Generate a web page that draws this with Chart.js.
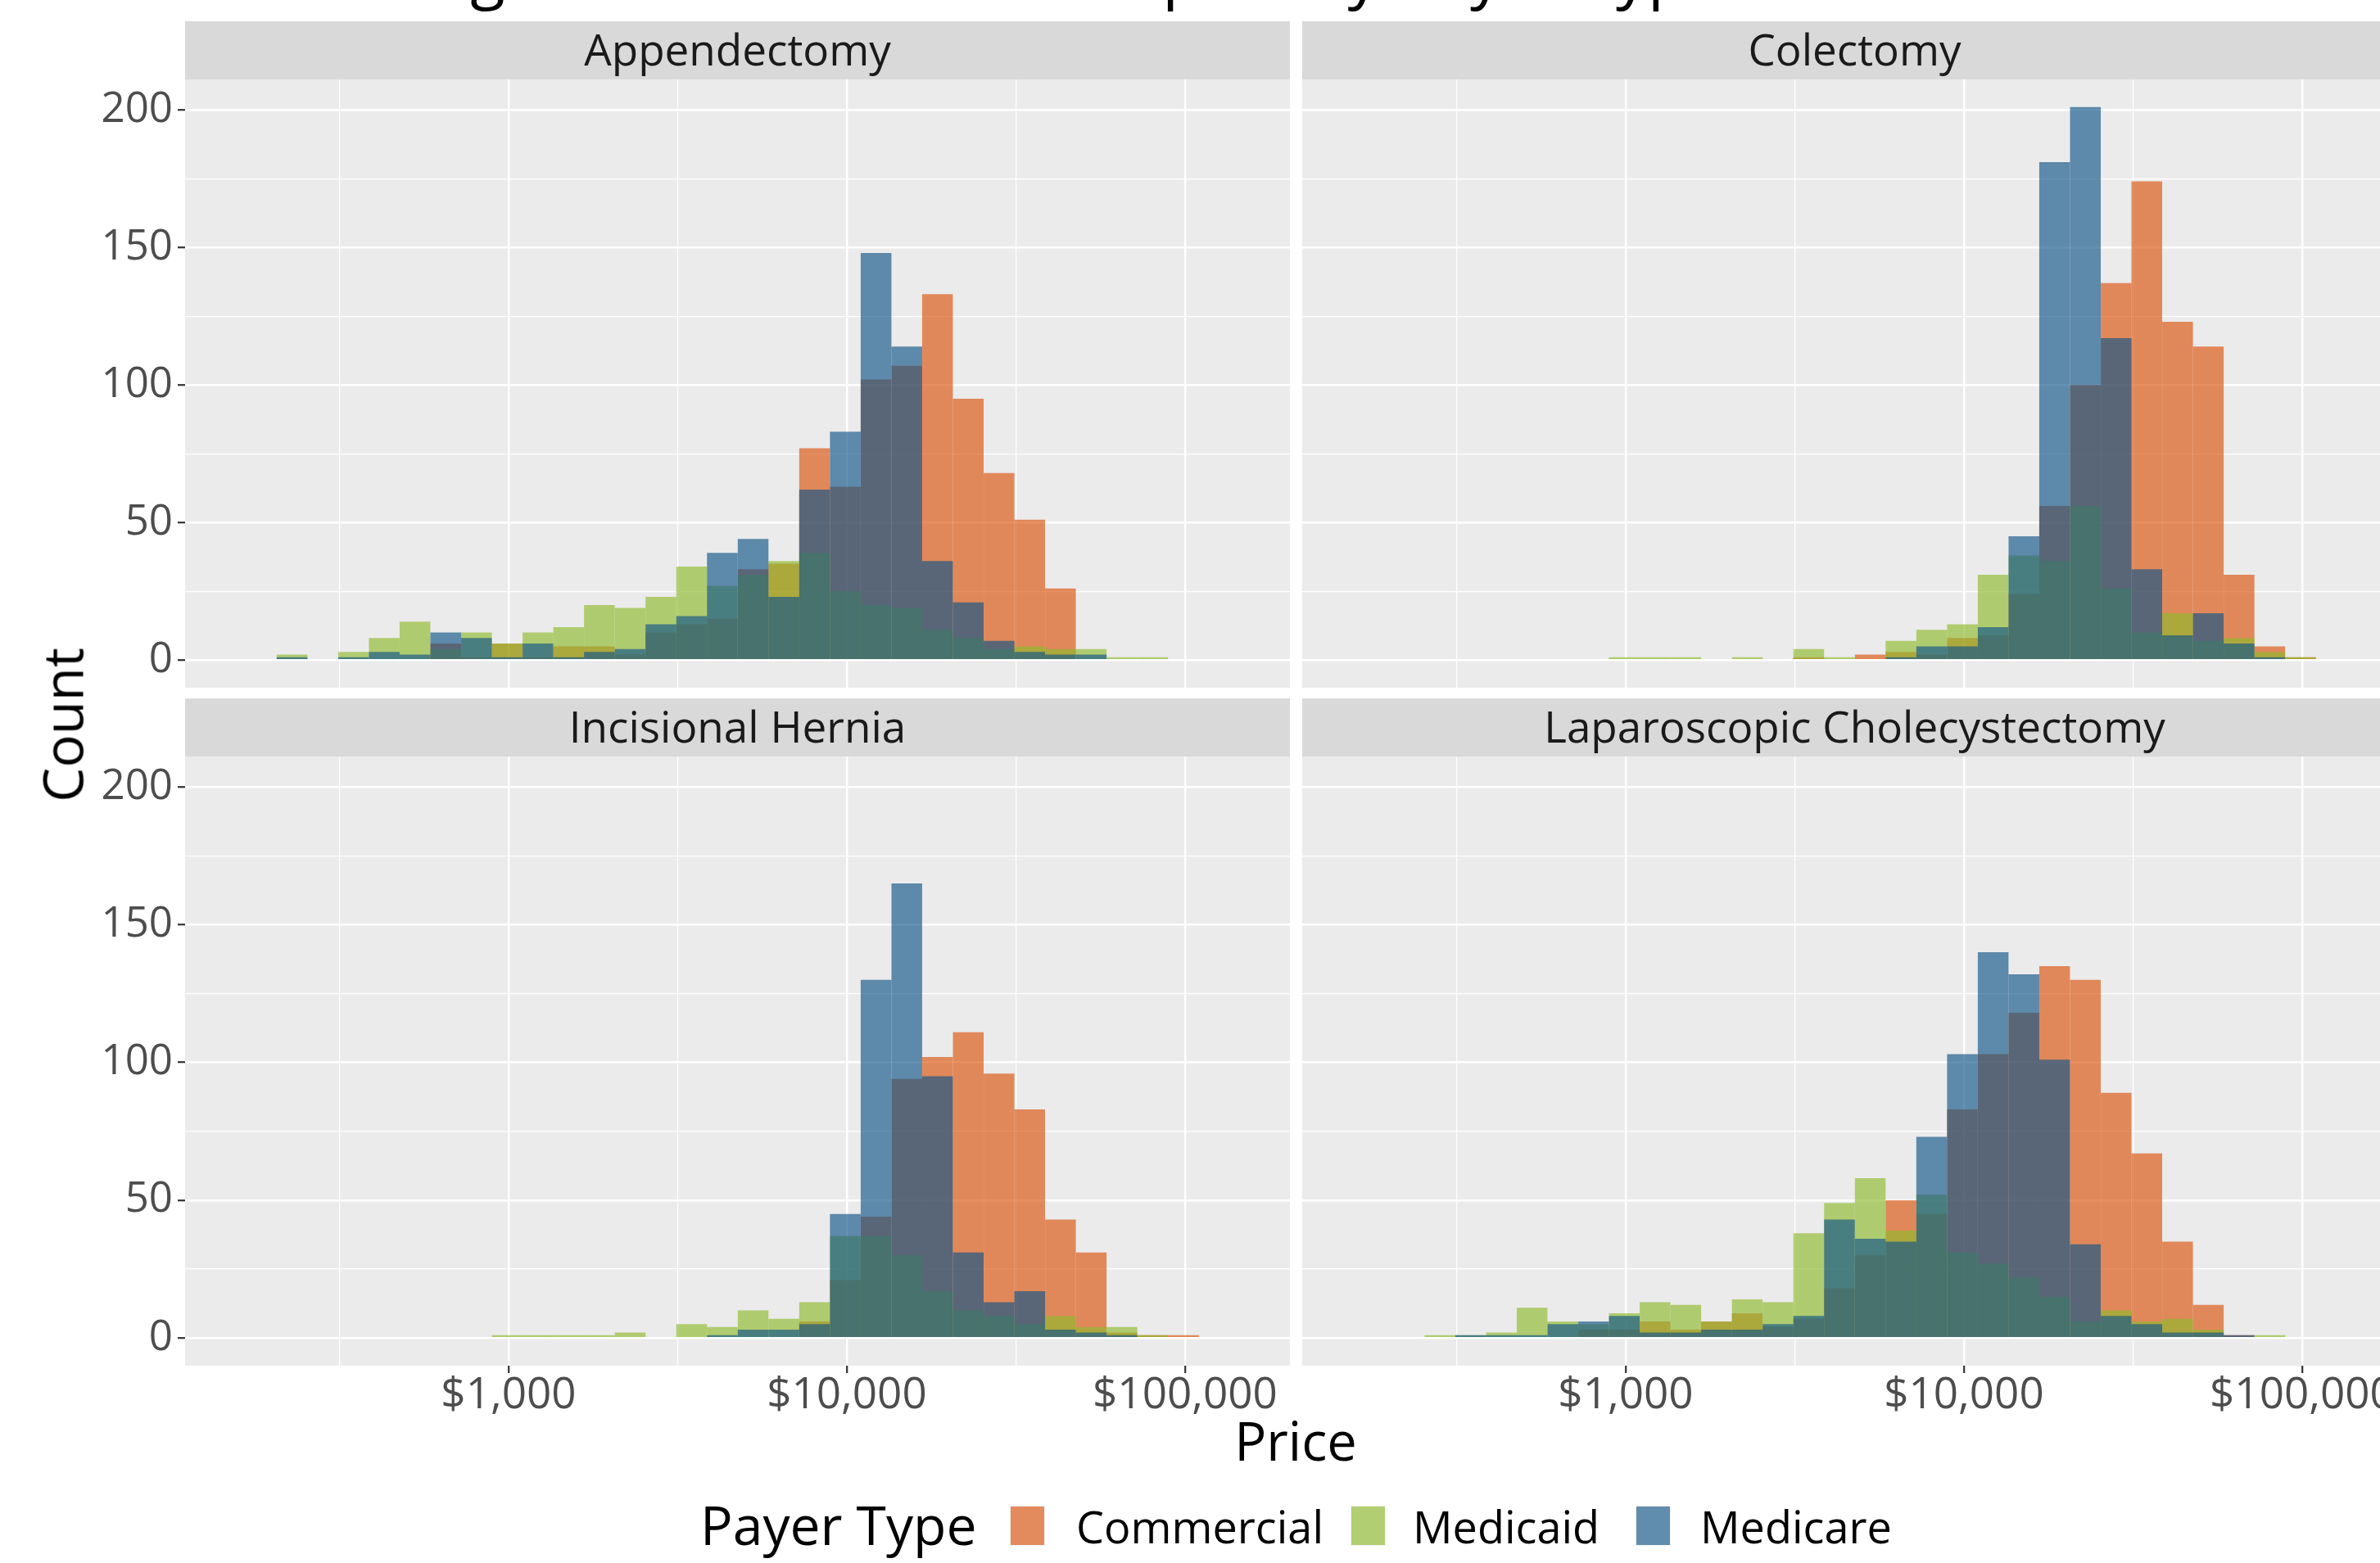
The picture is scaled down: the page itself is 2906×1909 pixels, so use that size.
<!DOCTYPE html>
<html>
<head>
<meta charset="utf-8">
<script src="https://cdn.jsdelivr.net/npm/chart.js@4.4.1/dist/chart.umd.min.js"></script>
<style>
  html, body { margin: 0; padding: 0; }
  body { width: 2906px; height: 1909px; overflow: hidden; position: relative; background: #ffffff;
         font-family: "Open Sans", sans-serif; }
  .abs { position: absolute; }
  canvas { display: block; }
  .strip { position: absolute; background: #D9D9D9; color: #1A1A1A; font-size: 53px; line-height: 67px;
           height: 71px; text-align: center; white-space: nowrap; overflow: hidden; z-index: 2; }
  .txt { position: absolute; white-space: nowrap; z-index: 3; }
  .key { position: absolute; width: 43px; height: 49px; background: #F2F2F2; z-index: 3; }
  .key > div { position: absolute; left: 1px; top: 1px; width: 41px; height: 47px; }
</style>
</head>
<body>
<div id="charts"></div>
<script>
// ---------------- data ----------------
const chartTitle = 'Median Surgical Prices at Each Hospital by Payer Type';
const procedures = ['Appendectomy', 'Colectomy', 'Incisional Hernia', 'Laparoscopic Cholecystectomy'];
const payerTypes = ['Commercial', 'Medicaid', 'Medicare'];

// histogram bin centres (USD, log-spaced bins)
const binPrices = [229.1, 282.4, 348.1, 429.1, 528.9, 652.1, 803.9, 990.8, 1221.5, 1505.8,
                   1856.2, 2288.4, 2821.0, 3477.5, 4286.0, 5284.5, 6514.7, 8029.5, 9899.2, 12203,
                   15044, 18541, 22863, 28184, 34735, 42820, 52796, 65072, 80221, 98901];

const appendectomyCommercial = [0,0,0,0,0,6,1,6,1,5,5,2,10,13,15,33,35,77,63,102,107,133,95,68,51,26,0,0,0,0];
const appendectomyMedicaid   = [2,0,3,8,14,4,10,6,10,12,20,19,23,34,27,31,36,39,25,20,19,11,8,4,5,4,4,1,1,0];
const appendectomyMedicare   = [1,0,1,3,2,10,8,1,6,1,3,4,13,16,39,44,23,62,83,148,114,36,21,7,3,2,2,0,0,0];

const colectomyCommercial = [0,0,0,0,0,0,0,0,0,0,0,0,0,1,0,2,3,2,8,9,24,56,100,137,174,123,114,31,5,1];
const colectomyMedicaid   = [0,0,0,0,0,0,0,1,1,1,0,1,0,4,1,0,7,11,13,31,38,36,56,26,10,17,7,8,3,1];
const colectomyMedicare   = [0,0,0,0,0,0,0,0,0,0,0,0,0,0,0,0,1,5,5,12,45,181,201,117,33,9,17,6,1,0];

const herniaCommercial = [0,0,0,0,0,0,0,0,0,0,0,0,0,0,0,0,0,6,21,44,94,102,111,96,83,43,31,2,1,1];
const herniaMedicaid   = [0,0,0,0,0,0,0,1,1,1,1,2,0,5,4,10,7,13,37,37,30,17,10,8,5,8,4,4,1,0];
const herniaMedicare   = [0,0,0,0,0,0,0,0,0,0,0,0,0,0,1,3,3,5,45,130,165,95,31,13,17,3,2,1,0,0];

const cholecystectomyCommercial = [0,0,0,0,0,0,3,3,6,3,6,9,4,7,18,30,50,45,83,103,118,135,130,89,67,35,12,1,0,0];
const cholecystectomyMedicaid   = [0,1,1,2,11,6,5,9,13,12,6,14,13,38,49,58,39,52,31,27,22,15,6,10,6,7,3,0,1,0];
const cholecystectomyMedicare   = [0,0,1,1,1,5,6,8,2,2,3,3,5,8,43,36,35,73,103,140,132,101,34,8,5,2,2,1,0,0];

const xTickValues = [316.23, 1000, 3162.28, 10000, 31622.8, 100000];
const xTickLabels = ['', '$1,000', '', '$10,000', '', '$100,000'];
const yTickValues = [0, 25, 50, 75, 100, 125, 150, 175, 200];
const yTickLabels = ['0', '', '50', '', '100', '', '150', '', '200'];
const xMin = 110.6, xMax = 204170;
const yMin = -10.05, yMax = 211.05;

const payerFill = ['rgba(218,83,12,0.65)', 'rgba(143,186,44,0.65)', 'rgba(17,84,135,0.65)'];

// ---------------- layout ----------------
const panels = [
  { name: procedures[0], series: [appendectomyCommercial, appendectomyMedicaid, appendectomyMedicare],
    left: 0, top: 57, width: 1575, height: 823, yW: 226, xH: 0, padTop: 40, padBottom: 40, showX: false, showY: true,
    strip: { left: 226, top: 26 } },
  { name: procedures[1], series: [colectomyCommercial, colectomyMedicaid, colectomyMedicare],
    left: 1590, top: 57, width: 1349, height: 823, yW: 0, xH: 0, padTop: 40, padBottom: 40, showX: false, showY: false,
    strip: { left: 1590, top: 26 } },
  { name: procedures[2], series: [herniaCommercial, herniaMedicaid, herniaMedicare],
    left: 0, top: 884, width: 1575, height: 884, yW: 226, xH: 100, padTop: 40, padBottom: 0, showX: true, showY: true,
    strip: { left: 226, top: 853 } },
  { name: procedures[3], series: [cholecystectomyCommercial, cholecystectomyMedicaid, cholecystectomyMedicare],
    left: 1590, top: 884, width: 1349, height: 884, yW: 0, xH: 100, padTop: 40, padBottom: 0, showX: true, showY: false,
    strip: { left: 1590, top: 853 } }
];

Chart.defaults.font.family = "'Open Sans', sans-serif";

const panelBg = {
  id: 'panelBg',
  beforeDraw(chart) {
    const a = chart.chartArea, ctx = chart.ctx;
    ctx.save();
    ctx.fillStyle = '#EBEBEB';
    ctx.fillRect(a.left, a.top, a.right - a.left, a.bottom - a.top);
    ctx.restore();
  }
};

const isMajorX = v => Math.abs(Math.log10(v) - Math.round(Math.log10(v))) < 1e-6;
const isMajorY = v => Math.abs(v % 50) < 1e-6;

function addText(text, css) {
  const d = document.createElement('div');
  d.className = 'txt';
  d.textContent = text;
  d.style.cssText += css;
  document.body.appendChild(d);
  return d;
}

panels.forEach(p => {
  // strip
  const s = document.createElement('div');
  s.className = 'strip';
  s.style.left = p.strip.left + 'px';
  s.style.top = p.strip.top + 'px';
  s.style.width = '1349px';
  s.textContent = p.name;
  document.body.appendChild(s);

  const wrap = document.createElement('div');
  wrap.className = 'abs';
  wrap.style.cssText = `left:${p.left}px;top:${p.top}px;width:${p.width}px;height:${p.height}px;z-index:1;`;
  const cv = document.createElement('canvas');
  cv.width = p.width; cv.height = p.height;
  wrap.appendChild(cv);
  document.getElementById('charts').appendChild(wrap);

  const datasets = payerTypes.map((name, j) => ({
    label: name,
    data: binPrices.map((x, k) => ({ x: x, y: p.series[j][k] })),
    backgroundColor: payerFill[j],
    borderWidth: 0,
    inflateAmount: 0,
    barPercentage: 1,
    categoryPercentage: 1,
    grouped: false,
    order: 3 - j
  }));

  new Chart(cv, {
    type: 'bar',
    data: { datasets },
    options: {
      responsive: false,
      animation: false,
      devicePixelRatio: 1,
      layout: { padding: { top: p.padTop, bottom: p.padBottom, left: 0, right: 0 } },
      plugins: { legend: { display: false }, tooltip: { enabled: false }, title: { display: false } },
      scales: {
        x: {
          type: 'logarithmic',
          min: xMin, max: xMax,
          bounds: 'data',
          offset: false,
          afterBuildTicks: sc => { sc.ticks = xTickValues.map(v => ({ value: v })); },
          afterFit: sc => { sc.height = p.xH; },
          border: { display: false },
          grid: {
            offset: false,
            color: '#FFFFFF',
            lineWidth: c => (c.tick && isMajorX(c.tick.value)) ? 2.4 : 1.2,
            drawTicks: p.showX,
            tickLength: 9,
            tickWidth: 2.2,
            tickColor: c => (c.tick && isMajorX(c.tick.value)) ? '#333333' : 'rgba(0,0,0,0)'
          },
          ticks: {
            display: p.showX, autoSkip: false, maxRotation: 0, minRotation: 0, padding: 0,
            color: '#4D4D4D', font: { size: 53, lineHeight: 1.05 },
            callback: (v, i) => xTickLabels[i]
          }
        },
        y: {
          type: 'linear',
          min: yMin, max: yMax,
          afterBuildTicks: sc => { sc.ticks = yTickValues.map(v => ({ value: v })); },
          afterFit: sc => { sc.width = p.yW; },
          border: { display: false },
          grid: {
            color: '#FFFFFF',
            lineWidth: c => (c.tick && isMajorY(c.tick.value)) ? 2.4 : 1.2,
            drawTicks: p.showY,
            tickLength: 9,
            tickWidth: 2.2,
            tickColor: c => (c.tick && isMajorY(c.tick.value)) ? '#333333' : 'rgba(0,0,0,0)'
          },
          ticks: {
            display: p.showY, autoSkip: false, padding: 6,
            color: '#4D4D4D', font: { size: 51 },
            callback: (v, i) => yTickLabels[i]
          }
        }
      }
    },
    plugins: [panelBg]
  });
});

// title (mostly cut off at the top in the reference)
addText(chartTitle, 'left:159px;top:-74px;font-size:78px;line-height:78px;color:#000;');
// axis titles
addText('Price', 'left:1382px;top:1727px;width:400px;text-align:center;font-size:65px;line-height:65px;color:#000;');
addText('Count', 'left:-124px;top:852px;width:400px;height:67px;text-align:center;font-size:67px;line-height:67px;color:#000;transform:rotate(-90deg);');
// legend
addText('Payer Type', 'left:855px;top:1828px;font-size:66px;line-height:66px;color:#000;');
const legendKeyLeft = [1233, 1649, 1997];
const legendTextLeft = [1314, 1725, 2076];
payerTypes.forEach((name, j) => {
  const k = document.createElement('div');
  k.className = 'key';
  k.style.left = legendKeyLeft[j] + 'px';
  k.style.top = '1839px';
  const f = document.createElement('div');
  f.style.background = payerFill[j];
  k.appendChild(f);
  document.body.appendChild(k);
  addText(name, `left:${legendTextLeft[j]}px;top:1837px;font-size:54px;line-height:54px;color:#000;`);
});
</script>
</body>
</html>
